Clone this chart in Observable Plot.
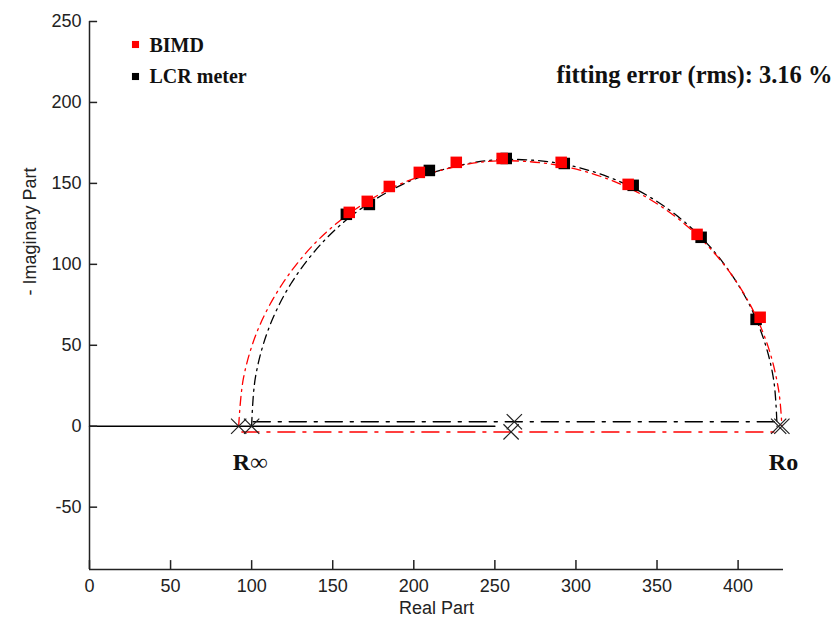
<!DOCTYPE html>
<html><head><meta charset="utf-8">
<script src="https://cdn.jsdelivr.net/npm/d3@7"></script>
<script src="https://cdn.jsdelivr.net/npm/@observablehq/plot@0.6"></script>
<style>html,body{margin:0;padding:0;background:#fff}#chart svg{display:block}</style>
</head><body><div id="chart"></div>
<script>
// Measured points (BIMD, red) and (LCR meter, black)
const bimdReal = [160.2, 171.3, 184.9, 203.4, 226.2, 254.5, 290.9, 332.2, 374.7, 413.6];
const bimdImag = [132.1, 138.9, 148.1, 156.8, 163.0, 165.4, 163.0, 149.4, 118.5, 67.3];
const lcrReal = [158.4, 172.6, 209.6, 257.0, 292.8, 335.3, 377.2, 411.1];
const lcrImag = [130.9, 137.0, 158.0, 165.4, 162.3, 148.8, 116.7, 66.0];

// Fitted arcs
const fitBimdReal = [92, 95, 104, 119, 139, 164, 195, 234, 259.5, 295, 330, 360, 385, 405, 418, 425, 427];
const fitBimdImag = [0, 30, 60, 88, 113, 134, 151, 162, 164, 160, 148.4, 130.5, 107.4, 79.5, 50.7, 22.3, 0];
const fitLcrReal = [100, 102.3, 110.4, 124.2, 145.1, 169.8, 201.3, 237.9, 262, 295, 330, 360, 385, 405, 416, 422, 424];
const fitLcrImag = [0, 30, 60, 88, 115, 136, 153, 163, 164.8, 161.4, 149.8, 131.8, 108.2, 78.9, 53.1, 28.2, 0];

// Horizontal diameter lines at the centre height of each fit
const bimdDiamReal = [94, 427];
const bimdCenterImag = -3.5;
const lcrDiamReal = [101, 424];
const lcrCenterImag = 2.8;

// Crosses: R-infinity, centre, Ro for each fit
const crossReal = [92, 100, 260, 262, 427, 425];
const crossImag = [0, 0, -3.5, 2.8, 0, 0];

// Real axis line
const axisLineReal = [0, 250];

const labelNames = ["R\u221E", "Ro"];
const labelReal = [99, 428];

const xTicks = [0, 50, 100, 150, 200, 250, 300, 350, 400];
const yTicks = [-50, 0, 50, 100, 150, 200, 250];
const xDomain = [0, 428];
const yDomain = [-88.5, 250];

const legendNames = ["BIMD", "LCR meter"];
const legendColors = ["#ff0000", "#000000"];
const errorText = "fitting error (rms): 3.16 %";

const serif = "'Liberation Serif', 'Times New Roman', serif";
const dash = "17,8,3,8";
const arcDash = "9,5,2,5";

const W = 837, H = 630, ML = 89, MR = 54, MT = 21, MB = 61;
// tick lengths (style), expressed in data units of each axis
const xTickLen = 5.5; // along y
const yTickLen = 5;   // along x

const idx = (a) => a.map((_, i) => i);

const chart = Plot.plot({
  width: W, height: H,
  marginLeft: ML, marginRight: MR, marginTop: MT, marginBottom: MB,
  x: {domain: xDomain},
  y: {domain: yDomain},
  style: {fontFamily: "'Liberation Sans', Arial, sans-serif", fontSize: "18px", color: "#222", background: "#fff"},
  marks: [
    Plot.ruleX([xDomain[0]], {stroke: "#222", strokeWidth: 1.5}),
    Plot.ruleY([yDomain[0]], {stroke: "#222", strokeWidth: 1.5}),
    Plot.axisX({ticks: xTicks, tickSize: 0, tickPadding: 10, label: null, fill: "#222", tickFormat: (d) => String(d)}),
    Plot.axisY({ticks: yTicks, tickSize: 0, tickPadding: 8, label: null, fill: "#222", tickFormat: (d) => String(d)}),
    Plot.text(["Real Part"], {frameAnchor: "bottom", lineAnchor: "middle", dy: 39, fontSize: 18, fill: "#222"}),
    Plot.text(["- Imaginary Part"], {frameAnchor: "left", lineAnchor: "middle", dx: -59, rotate: -90, fontSize: 18, fill: "#222"}),

    // real axis
    Plot.line(idx(axisLineReal), {x: (i) => axisLineReal[i], y: () => 0, stroke: "#000", strokeWidth: 1.5}),

    // diameter lines
    Plot.line(idx(lcrDiamReal), {x: (i) => lcrDiamReal[i], y: () => lcrCenterImag, stroke: "#000", strokeWidth: 1.5, strokeDasharray: dash}),
    Plot.line(idx(bimdDiamReal), {x: (i) => bimdDiamReal[i], y: () => bimdCenterImag, stroke: "#ff0000", strokeWidth: 1.5, strokeDasharray: dash}),

    // fitted arcs
    Plot.line(idx(fitLcrReal), {x: (i) => fitLcrReal[i], y: (i) => fitLcrImag[i], curve: "catmull-rom", stroke: "#000", strokeWidth: 1.3, strokeDasharray: arcDash}),
    Plot.line(idx(fitBimdReal), {x: (i) => fitBimdReal[i], y: (i) => fitBimdImag[i], curve: "catmull-rom", stroke: "#ff0000", strokeWidth: 1.3, strokeDasharray: arcDash}),

    // crosses
    Plot.dot(idx(crossReal), {x: (i) => crossReal[i], y: (i) => crossImag[i], symbol: "times", r: 7, stroke: "#222", strokeWidth: 1.2}),

    // data points
    Plot.dot(idx(lcrReal), {x: (i) => lcrReal[i], y: (i) => lcrImag[i], symbol: "square", r: 6.5, fill: "#000"}),
    Plot.dot(idx(bimdReal), {x: (i) => bimdReal[i], y: (i) => bimdImag[i], symbol: "square", r: 6.5, fill: "#ff0000"}),

    // R labels
    Plot.text(idx(labelNames), {x: (i) => labelReal[i], y: () => 0, text: (i) => labelNames[i], dy: 36, fontFamily: serif, fontWeight: "bold", fontSize: 24, fill: "#111"}),

    // legend
    Plot.dot([0], {frameAnchor: "top-left", dx: 46, dy: 23, symbol: "square", r: 4, fill: legendColors[0]}),
    Plot.dot([0], {frameAnchor: "top-left", dx: 46, dy: 55, symbol: "square", r: 4, fill: legendColors[1]}),
    Plot.text([legendNames[0]], {frameAnchor: "top-left", lineAnchor: "middle", dx: 60, dy: 24, textAnchor: "start", fontFamily: serif, fontWeight: "bold", fontSize: 20, fill: "#111"}),
    Plot.text([legendNames[1]], {frameAnchor: "top-left", lineAnchor: "middle", dx: 60, dy: 55, textAnchor: "start", fontFamily: serif, fontWeight: "bold", fontSize: 20, fill: "#111"}),
    Plot.text([errorText], {frameAnchor: "top-right", lineAnchor: "middle", dx: 49, dy: 54, textAnchor: "end", fontFamily: serif, fontWeight: "bold", fontSize: 24.5, fill: "#111"}),

    // inward ticks (drawn last)
    Plot.ruleX(xTicks, {x: (d) => d, y1: yDomain[0], y2: yDomain[0] + xTickLen, stroke: "#222", strokeWidth: 1.5}),
    Plot.ruleY(yTicks, {y: (d) => d, x1: xDomain[0], x2: xDomain[0] + yTickLen, stroke: "#222", strokeWidth: 1.5})
  ]
});
document.getElementById("chart").appendChild(chart);
</script>
</body></html>
